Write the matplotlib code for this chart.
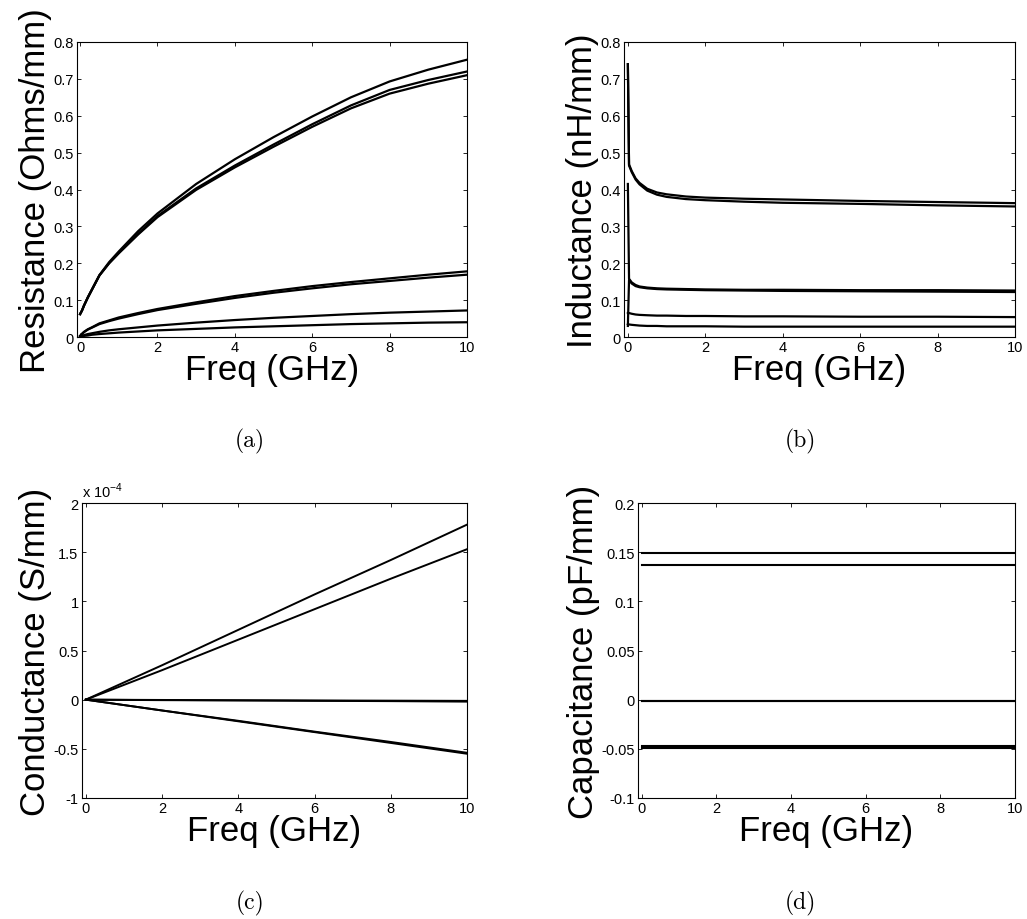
import numpy as np
import matplotlib
matplotlib.use("Agg")
from matplotlib import pyplot as plt
from matplotlib.ticker import FuncFormatter

plt.rcParams['font.family'] = ['Liberation Sans', 'DejaVu Sans']
plt.rcParams['mathtext.fontset'] = 'custom'
plt.rcParams['mathtext.rm'] = 'Liberation Sans'
plt.rcParams['axes.unicode_minus'] = False

# (a) resistance, Ohms/mm
freq_r = [0, 0.05, 0.1, 0.2, 0.3, 0.5, 0.75, 1, 1.5, 2, 3, 4, 5, 6, 7, 8, 9, 10]
res_1 = [0.062, 0.072, 0.085, 0.108, 0.128, 0.168, 0.203, 0.232, 0.287, 0.335, 0.415, 0.482, 0.542, 0.598, 0.65, 0.693, 0.725, 0.752]
res_2 = [0.062, 0.072, 0.085, 0.107, 0.127, 0.167, 0.2, 0.228, 0.28, 0.328, 0.403, 0.465, 0.522, 0.577, 0.628, 0.67, 0.697, 0.72]
res_3 = [0.062, 0.072, 0.085, 0.107, 0.127, 0.167, 0.2, 0.227, 0.278, 0.325, 0.399, 0.46, 0.516, 0.57, 0.62, 0.66, 0.687, 0.71]
res_4 = [0.003, 0.009, 0.014, 0.021, 0.026, 0.037, 0.045, 0.053, 0.065, 0.076, 0.094, 0.111, 0.125, 0.138, 0.149, 0.159, 0.169, 0.178]
res_5 = [0.003, 0.008, 0.013, 0.02, 0.025, 0.035, 0.043, 0.05, 0.062, 0.073, 0.09, 0.106, 0.12, 0.132, 0.143, 0.152, 0.161, 0.169]
res_6 = [0.0, 0.003, 0.005, 0.008, 0.01, 0.014, 0.018, 0.021, 0.026, 0.031, 0.039, 0.046, 0.052, 0.057, 0.062, 0.066, 0.069, 0.072]
res_7 = [0.0, 0.002, 0.003, 0.004, 0.006, 0.008, 0.01, 0.012, 0.015, 0.018, 0.022, 0.026, 0.029, 0.032, 0.035, 0.037, 0.039, 0.04]

# (b) inductance, nH/mm
freq_l = [0, 0.03, 0.1, 0.2, 0.3, 0.5, 0.75, 1, 1.5, 2, 3, 4, 6, 8, 10]
ind_1 = [0.74, 0.468, 0.45, 0.43, 0.418, 0.402, 0.392, 0.387, 0.381, 0.378, 0.375, 0.373, 0.369, 0.366, 0.363]
ind_2 = [0.74, 0.465, 0.447, 0.427, 0.414, 0.397, 0.386, 0.38, 0.374, 0.371, 0.367, 0.364, 0.361, 0.357, 0.354]
ind_3 = [0.415, 0.158, 0.148, 0.141, 0.137, 0.134, 0.132, 0.131, 0.13, 0.129, 0.128, 0.128, 0.127, 0.127, 0.126]
ind_4 = [0.03, 0.155, 0.145, 0.138, 0.135, 0.132, 0.13, 0.129, 0.128, 0.127, 0.126, 0.125, 0.124, 0.123, 0.122]
ind_5 = [0.065, 0.065, 0.063, 0.061, 0.06, 0.059, 0.058, 0.058, 0.057, 0.057, 0.056, 0.056, 0.055, 0.055, 0.054]
ind_6 = [0.035, 0.034, 0.033, 0.032, 0.031, 0.03, 0.03, 0.029, 0.029, 0.029, 0.028, 0.028, 0.028, 0.028, 0.028]

# (c) conductance, S/mm
freq_g = [0, 2, 4, 6, 8, 10]
cond_1 = [0, 0.35e-4, 0.71e-4, 1.07e-4, 1.42e-4, 1.78e-4]
cond_2 = [0, 0.30e-4, 0.61e-4, 0.92e-4, 1.23e-4, 1.53e-4]
cond_3 = [0, -0.005e-4, -0.008e-4, -0.012e-4, -0.015e-4, -0.02e-4]
cond_4 = [0, -0.003e-4, -0.006e-4, -0.008e-4, -0.01e-4, -0.012e-4]
cond_5 = [0, -0.11e-4, -0.22e-4, -0.33e-4, -0.44e-4, -0.55e-4]
cond_6 = [0, -0.11e-4, -0.215e-4, -0.325e-4, -0.43e-4, -0.54e-4]

# (d) capacitance, pF/mm
freq_c = [0, 2, 4, 6, 8, 10]
cap_1 = [0.149, 0.149, 0.149, 0.149, 0.149, 0.149]
cap_2 = [0.137, 0.137, 0.137, 0.137, 0.137, 0.137]
cap_3 = [-0.001, -0.001, -0.001, -0.001, -0.001, -0.001]
cap_4 = [-0.0015, -0.0015, -0.0015, -0.0015, -0.0015, -0.0015]
cap_5 = [-0.047, -0.047, -0.047, -0.047, -0.047, -0.047]
cap_6 = [-0.049, -0.049, -0.049, -0.049, -0.049, -0.049]

fig = plt.figure(figsize=(10.27, 9.2), dpi=100)

W, H = 1027.0, 920.0
def make_axes(left, right, top, bottom):
    return fig.add_axes([left / W, 1 - bottom / H, (right - left) / W, (bottom - top) / H])

ax_a = make_axes(77, 467, 43, 338)
ax_b = make_axes(624, 1015, 43, 338)
ax_c = make_axes(82, 467, 504, 799)
ax_d = make_axes(638, 1015, 504, 799)

for y in [res_1, res_2, res_3, res_4, res_5, res_6, res_7]:
    ax_a.plot(freq_r, y, color='black', lw=1.6)
for y in [ind_1, ind_2, ind_3, ind_4, ind_5, ind_6]:
    ax_b.plot(freq_l, y, color='black', lw=1.6)
for y in [cond_1, cond_2, cond_3, cond_4, cond_5, cond_6]:
    ax_c.plot(freq_g, y, color='black', lw=1.4)
for y in [cap_1, cap_2, cap_3, cap_4, cap_5, cap_6]:
    ax_d.plot(freq_c, y, color='black', lw=1.5)

ax_a.set_xlim(-0.08, 10)
ax_a.set_ylim(0, 0.8)
ax_b.set_xlim(-0.1, 10)
ax_b.set_ylim(0, 0.8)
ax_c.set_xlim(-0.1, 10)
ax_c.set_ylim(-1e-4, 2e-4)
ax_d.set_xlim(-0.1, 10)
ax_d.set_ylim(-0.1, 0.2)

ax_a.set_yticks(np.arange(0, 0.81, 0.1))
ax_b.set_yticks(np.arange(0, 0.81, 0.1))
ax_c.set_yticks(np.arange(-1, 2.01, 0.5) * 1e-4)
ax_d.set_yticks(np.arange(-0.1, 0.201, 0.05))

gfmt = FuncFormatter(lambda v, p: '%g' % round(v, 4))
ax_c.yaxis.set_major_formatter(FuncFormatter(lambda v, p: '%g' % round(v * 1e4, 3)))
ax_c.text(0, 1.01, r'x 10$^{-4}$', transform=ax_c.transAxes, fontsize=10.5, ha='left', va='bottom')

ylabels = ['Resistance (Ohms/mm)', 'Inductance (nH/mm)', 'Conductance (S/mm)', 'Capacitance (pF/mm)']
captions = ['(a)', '(b)', '(c)', '(d)']
for ax, lab in zip([ax_a, ax_b, ax_c, ax_d], ylabels):
    ax.set_xticks([0, 2, 4, 6, 8, 10])
    if ax is not ax_c:
        ax.yaxis.set_major_formatter(gfmt)
    ax.tick_params(direction='in', top=True, right=True, length=3, width=0.6, labelsize=10.5, pad=2.5)
    for s in ax.spines.values():
        s.set_linewidth(0.8)
    ax.set_xlabel('Freq (GHz)', fontsize=25, labelpad=-1)
    ax.set_ylabel(lab, fontsize=25, labelpad=1)

# subfigure captions
fig.text(250 / W, 1 - 441 / H, captions[0], fontfamily='cmr10', fontsize=17, ha='center', va='center')
fig.text(800 / W, 1 - 441 / H, captions[1], fontfamily='cmr10', fontsize=17, ha='center', va='center')
fig.text(250 / W, 1 - 903 / H, captions[2], fontfamily='cmr10', fontsize=17, ha='center', va='center')
fig.text(800 / W, 1 - 903 / H, captions[3], fontfamily='cmr10', fontsize=17, ha='center', va='center')

fig.savefig('out.png', dpi=100)
